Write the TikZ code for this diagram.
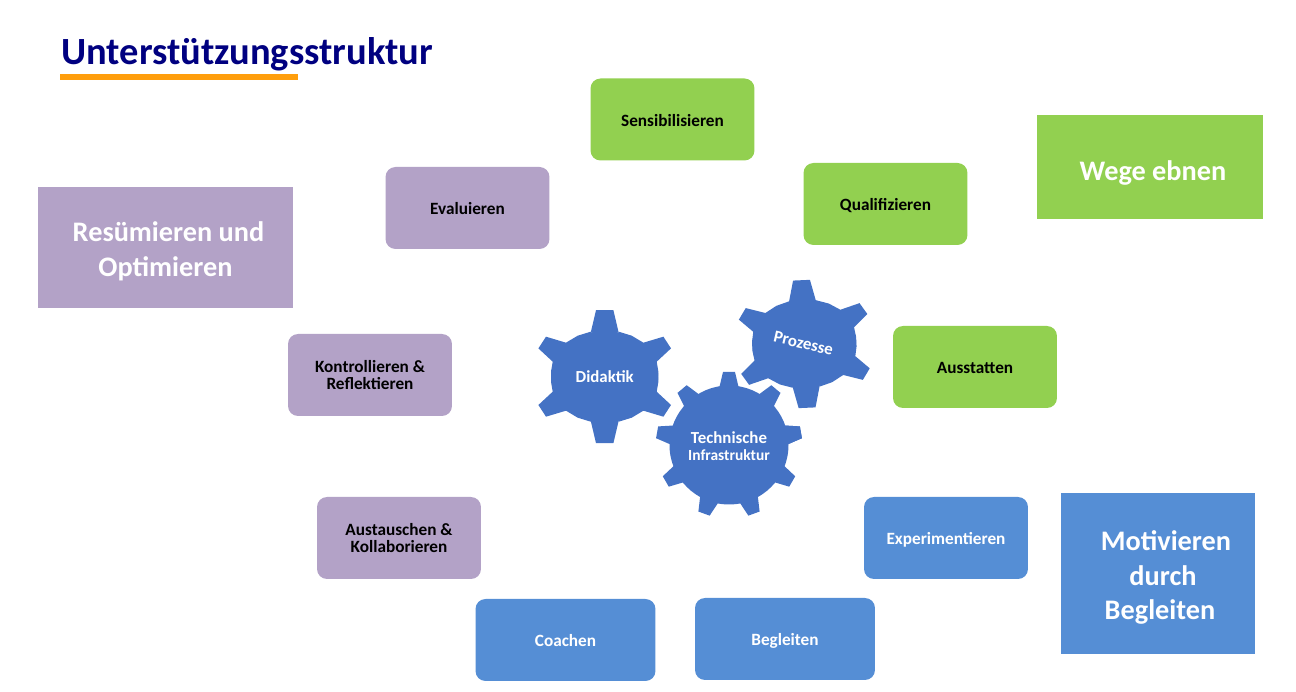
\documentclass[tikz,border=0pt]{standalone}
\usepackage{fontspec}
\setmainfont{Carlito}
\definecolor{titleblue}{HTML}{000080}
\definecolor{barorange}{HTML}{FF9E0C}
\definecolor{stepgreen}{HTML}{92D050}
\definecolor{steppurple}{HTML}{B3A2C7}
\definecolor{stepblue}{HTML}{558ED5}
\definecolor{gearblue}{HTML}{4472C4}
\tikzset{
  stepbox/.style={rounded corners=0.2cm,minimum width=3.28cm,minimum height=1.64cm,inner sep=0pt,align=center,font=\fontsize{9.8}{10.2}\selectfont\bfseries},
  widebox/.style={stepbox,minimum width=3.6cm},
  oneline/.style={text height=8.4pt,text depth=0.6pt},
  bigbox/.style={inner sep=0pt,align=center,text=white,font=\fontsize{16.1}{19.7}\selectfont\bfseries},
  gearlabel/.style={inner sep=0pt,align=center,text=white,font=\fontsize{9.6}{9.7}\selectfont\bfseries}
}
\begin{document}
\begin{tikzpicture}[x=0.02cm,y=0.02cm]
\useasboundingbox (0,0) rectangle (1296,692);

% title
\node[anchor=base west,inner sep=0pt,text=titleblue,font=\fontsize{21.9}{24}\selectfont\bfseries] (title) at (61,627) {Unterstützungsstruktur};
\fill[barorange] (60,612) rectangle (298,618);

% gears
\begin{scope}[shift={(604.7,315.3)}]
\fill[gearblue] (0,0) ellipse (53.5 and 45.7);
\foreach \sy in {1,-1} {
  \fill[gearblue,yscale=\sy] (-14,44) -- (-8.7,66.5) -- (8.7,66.5) -- (14,44) -- cycle;
  \foreach \sx in {1,-1}
    \fill[gearblue,xscale=\sx,yscale=\sy] (0,0) -- (14,45) -- (27,41) -- (38.7,34) -- (58.7,40) -- (66.3,28.3) -- (52,15) -- (53.7,5) -- (53.7,0) -- cycle;
}
\end{scope}
\begin{scope}[shift={(804.3,348)},rotate=2.5,yscale=0.96,xscale=0.97]
\fill[gearblue] (0,0) ellipse (53.5 and 45.7);
\foreach \sy in {1,-1} {
  \fill[gearblue,yscale=\sy] (-14,44) -- (-8.7,66.5) -- (8.7,66.5) -- (14,44) -- cycle;
  \foreach \sx in {1,-1}
    \fill[gearblue,xscale=\sx,yscale=\sy] (0,0) -- (14,45) -- (27,41) -- (38.7,34) -- (58.7,40) -- (66.3,28.3) -- (52,15) -- (53.7,5) -- (53.7,0) -- cycle;
}
\end{scope}
\begin{scope}[shift={(729,247)}]
\fill[gearblue] (0,0) circle (59.5);
\foreach \a in {10,50,...,370}
  \fill[gearblue,rotate=\a] (54,-10.5) -- (73,-6) -- (73,6) -- (54,10.5) -- cycle;
\end{scope}
\node[gearlabel] (didaktik) at (604.7,315.3) {Didaktik};
\node[gearlabel,rotate=-13] (prozesse) at (803.5,348.5) {Prozesse};
\node[gearlabel] (infra) at (729,245.5) {Technische\\{\fontsize{8.8}{9.7}\selectfont Infrastruktur}};

% green steps
\node[stepbox,oneline,fill=stepgreen] (sensibilisieren) at (672.5,572.5) {Sensibilisieren};
\node[stepbox,oneline,fill=stepgreen] (qualifizieren) at (885.5,488) {Qualifizieren};
\node[stepbox,oneline,fill=stepgreen] (ausstatten) at (975,325) {Ausstatten};

% purple steps
\node[stepbox,oneline,fill=steppurple] (evaluieren) at (467.5,484) {Evaluieren};
\node[stepbox,fill=steppurple] (kontrollieren) at (370,317) {Kontrollieren \&\\Reflektieren};
\node[stepbox,fill=steppurple] (austauschen) at (399,154) {Austauschen \&\\Kollaborieren};

% blue steps
\node[stepbox,oneline,fill=stepblue,text=white] (experimentieren) at (946,154) {Experimentieren};
\node[widebox,oneline,fill=stepblue,text=white] (coachen) at (565.5,52) {Coachen};
\node[widebox,oneline,fill=stepblue,text=white] (begleiten) at (785,53) {Begleiten};

% big boxes
\node[bigbox,text height=15pt,text depth=0pt,fill=stepgreen,minimum width=4.52cm,minimum height=2.08cm] (wege) at (1150,525) {\hspace*{0.12cm}Wege ebnen};
\node[bigbox,text height=33pt,text depth=0pt,fill=steppurple,minimum width=5.1cm,minimum height=2.42cm] (resuemieren) at (165.5,444.5) {\hspace*{0.12cm}Resümieren und\\Optimieren};
\node[bigbox,text height=52.7pt,text depth=0pt,fill=stepblue,minimum width=3.88cm,minimum height=3.22cm] (motivieren) at (1158,118.5) {\hspace*{0.32cm}Motivieren\\\hspace*{0.2cm}durch\\\hspace*{0.08cm}Begleiten};
\end{tikzpicture}
\end{document}
